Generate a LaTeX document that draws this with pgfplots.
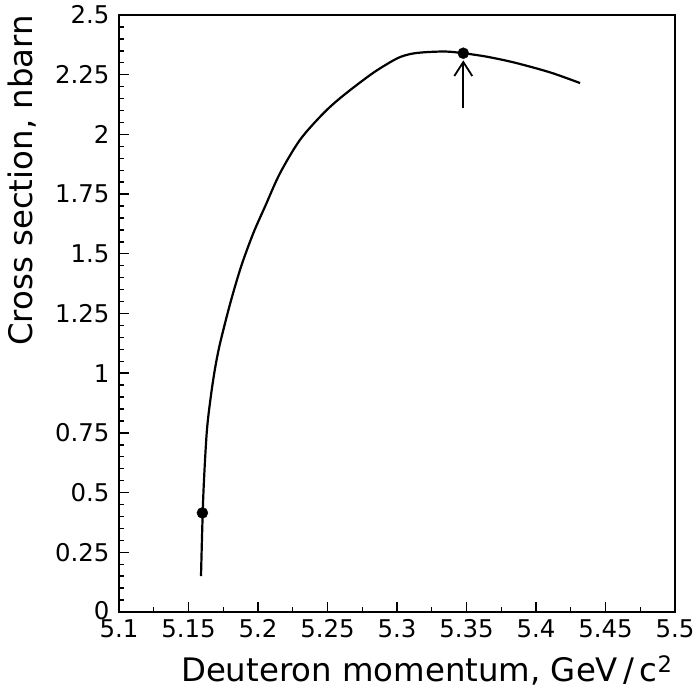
\documentclass[border=0pt]{standalone}
\usepackage{fontspec}
\setmainfont{DejaVu Sans}
\usepackage{pgfplots}
\pgfplotsset{compat=1.18}
\usetikzlibrary{arrows.meta}
\begin{document}
\begin{tikzpicture}
\begin{axis}[name=ax, scale only axis, width=556bp, height=597bp,
  xmin=5.1, xmax=5.5, ymin=0, ymax=2.5,
  xtick={5.1,5.15,5.2,5.25,5.3,5.35,5.4,5.45,5.5},
  xticklabels={5.1,5.15,5.2,5.25,5.3,5.35,5.4,5.45,5.5},
  ytick={0,0.25,0.5,0.75,1,1.25,1.5,1.75,2,2.25,2.5},
  yticklabels={\raisebox{4bp}{0},0.25,0.5,0.75,1,1.25,1.5,1.75,2,2.25,2.5},
  minor x tick num=1, minor y tick num=4,
  tick align=inside, xtick pos=bottom, ytick pos=left,
  major tick length=10bp, minor tick length=5bp,
  axis line style={line width=2bp},
  every tick/.style={line width=1.4bp, black},
  tick label style={font=\fontsize{24.5}{24.5}\selectfont},
  yticklabel style={xshift=-6bp},
  xticklabel style={yshift=-4bp},
  label style={font=\fontsize{32.5}{32.5}\selectfont, inner sep=0pt},
  xlabel={Deuteron momentum, GeV\,/\,c\textsuperscript{2}},
  ylabel={Cross section, nbarn},
  xlabel style={at={(axis description cs:0.996,-0.072)}, anchor=north east},
  ylabel style={at={(axis description cs:-0.2,1)}, anchor=north east},
  clip=false,
]
\addplot[black, line width=2.2bp, smooth, tension=0.5] coordinates {
  (5.1590,0.15) (5.1606,0.48) (5.1631,0.75) (5.1660,0.90)
  (5.1691,1.02) (5.1727,1.125) (5.1799,1.29) (5.1878,1.446)
  (5.1966,1.586) (5.2050,1.697) (5.2158,1.837) (5.2302,1.977)
  (5.2470,2.088) (5.2612,2.162) (5.2827,2.257) (5.3000,2.318)
  (5.3100,2.337) (5.3200,2.344) (5.3350,2.347) (5.3477,2.340)
  (5.3650,2.325) (5.3850,2.300) (5.4100,2.260) (5.4317,2.215)
};
\addplot[only marks, mark=*, mark size=5.5bp, black] coordinates {
  (5.160,0.415) (5.3477,2.340)
};
\addplot[black, line width=1.8bp, -{Straight Barb[length=14bp,width=18bp,line width=1.8bp]}] coordinates {
  (5.3477,2.11) (5.3477,2.31)
};
\end{axis}
\pgfresetboundingbox
\path[use as bounding box] (ax.south west) ++(-119bp,-84bp) rectangle ++(697bp,696bp);
\end{tikzpicture}
\end{document}
